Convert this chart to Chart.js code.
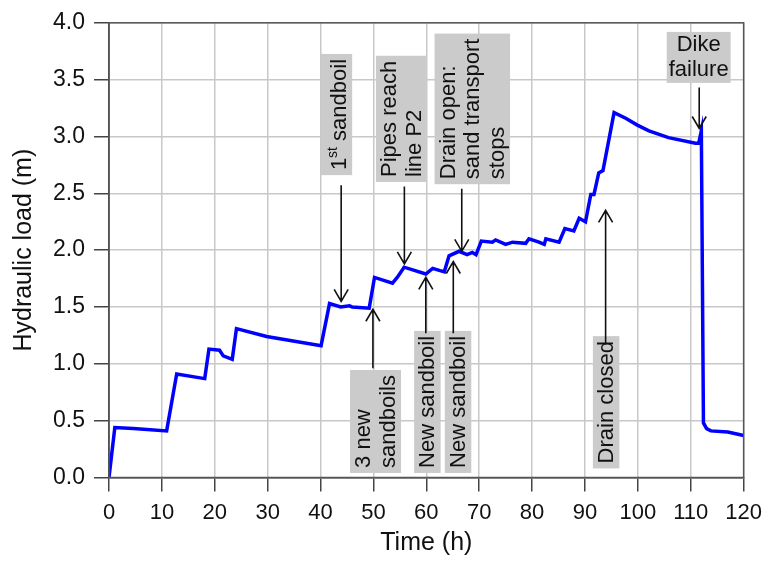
<!DOCTYPE html>
<html>
<head>
<meta charset="UTF-8">
<script src="https://cdn.jsdelivr.net/npm/chart.js"></script>
<style>body{margin:0;background:#fff}</style>
</head>
<body>
<canvas id="myChart" width="770" height="564"></canvas>
<script>
// values
const timeH = [0, 1.1, 4.6, 10.9, 12.8, 18.1, 18.9, 20.9, 21.6, 23.3, 24.1, 29.8, 40.1, 41.7, 43.8, 45.5, 46.0, 49.2,
	50.2, 53.6, 54.5, 55.8, 59.9, 61.2, 62.6, 63.4, 64.3, 66.2, 67.7, 68.7, 69.4, 70.4, 72.5, 73.1, 75.0, 76.3, 78.8, 79.4,
	81.3, 82.3, 82.6, 85.1, 86.2, 87.9, 88.9, 90.1, 91.1, 91.7, 92.6, 93.4, 95.5, 97.7, 99.9, 102.1, 105.8, 110.9, 111.5,
	112.0, 112.4, 113.0, 113.8, 117.0, 120];
const loadM = [0, 0.44, 0.43, 0.41, 0.91, 0.87, 1.13, 1.12, 1.07, 1.04, 1.31, 1.24, 1.16, 1.53, 1.50, 1.51, 1.50, 1.49,
	1.76, 1.71, 1.76, 1.85, 1.79, 1.84, 1.82, 1.81, 1.95, 1.99, 1.96, 1.98, 1.96, 2.08, 2.07, 2.09, 2.05, 2.07, 2.06, 2.10,
	2.07, 2.05, 2.10, 2.07, 2.19, 2.17, 2.28, 2.25, 2.49, 2.49, 2.68, 2.70, 3.21, 3.16, 3.10, 3.05, 2.99, 2.94, 2.94,
	3.05, 0.48, 0.43, 0.41, 0.40, 0.37];
const xTicks = [0, 10, 20, 30, 40, 50, 60, 70, 80, 90, 100, 110, 120];
const yTicks = [0, 0.5, 1, 1.5, 2, 2.5, 3, 3.5, 4];

// notes: t = box centre (h), base = box bottom (m), arrow at arrowT from -> to (m)
const notes = [
	{lines: ['1^st^ sandboil'], t: 43.0, base: 2.66, arrowT: 43.9, from: 2.57, to: 1.55},
	{lines: ['Pipes reach', 'line P2'], t: 55.3, base: 2.60, arrowT: 55.85, from: 2.56, to: 1.88},
	{lines: ['Drain open:', 'sand transport', 'stops'], t: 68.7, base: 2.58, arrowT: 66.7, from: 2.54, to: 1.99},
	{lines: ['3 new', 'sandboils'], t: 50.4, base: 0.04, arrowT: 49.9, from: 0.96, to: 1.48},
	{lines: ['New sandboil'], t: 60.2, base: 0.04, arrowT: 59.9, from: 1.27, to: 1.76},
	{lines: ['New sandboil'], t: 66.0, base: 0.04, arrowT: 65.1, from: 1.27, to: 1.90},
	{lines: ['Drain closed'], t: 94.0, base: 0.08, arrowT: 93.9, from: 1.17, to: 2.35},
	{lines: ['Dike', 'failure'], t: 111.5, top: 3.92, flat: true, arrowT: 111.6, from: 3.43, to: 3.07}
];

const fam = '"Liberation Sans", Arial, sans-serif';

function segs(str) {
	return str.split('^').map((s, i) => ({s: s, sup: i % 2 == 1}));
}
function segWidth(ctx, str) {
	let w = 0;
	segs(str).forEach(p => {
		ctx.font = (p.sup ? '14px ' : '22px ') + fam;
		w += ctx.measureText(p.s).width;
	});
	return w;
}
function drawSegs(ctx, str, x, y) {
	segs(str).forEach(p => {
		ctx.font = (p.sup ? '14px ' : '22px ') + fam;
		ctx.fillText(p.s, x, p.sup ? y - 7 : y);
		x += ctx.measureText(p.s).width;
	});
}

const notePlugin = {
	id: 'notes',
	afterDatasetsDraw(chart) {
		const ctx = chart.ctx, xs = chart.scales.x, ys = chart.scales.y, a = chart.chartArea;
		ctx.save();
		// frame
		ctx.strokeStyle = '#555';
		ctx.lineWidth = 1.5;
		ctx.strokeRect(a.left, a.top, a.right - a.left, a.bottom - a.top);

		ctx.textBaseline = 'middle';
		const lh = 24.5;
		notes.forEach(n => {
			let w = 0;
			n.lines.forEach(l => { w = Math.max(w, segWidth(ctx, l)); });
			const cx = xs.getPixelForValue(n.t);
			ctx.fillStyle = '#cbcbcb';
			if (n.flat) {
				const bw = w + 4, bh = n.lines.length * lh + 2;
				const top = ys.getPixelForValue(n.top);
				ctx.fillRect(cx - bw / 2, top, bw, bh);
				ctx.fillStyle = '#111';
				ctx.textAlign = 'center';
				n.lines.forEach((l, i) => {
					ctx.font = '22px ' + fam;
					ctx.fillText(l, cx, top + 1 + lh * (i + 0.5));
				});
			} else {
				const sup = n.lines[0].indexOf('^') >= 0 ? 5 : 0;
				const bw = n.lines.length * lh + 2 + sup, bh = w + 10;
				const bottom = ys.getPixelForValue(n.base);
				ctx.fillRect(cx - bw / 2, bottom - bh, bw, bh);
				ctx.fillStyle = '#111';
				ctx.textAlign = 'left';
				n.lines.forEach((l, i) => {
					ctx.save();
					ctx.translate(cx - bw / 2 + 1 + sup + lh * (i + 0.5), bottom - 5);
					ctx.rotate(-Math.PI / 2);
					drawSegs(ctx, l, 0, 1);
					ctx.restore();
				});
			}
			// arrow
			const ax = xs.getPixelForValue(n.arrowT);
			const y0 = ys.getPixelForValue(n.from), y1 = ys.getPixelForValue(n.to);
			const d = y1 > y0 ? 1 : -1;
			ctx.strokeStyle = '#111';
			ctx.lineWidth = 1.6;
			ctx.beginPath();
			ctx.moveTo(ax, y0);
			ctx.lineTo(ax, y1);
			ctx.moveTo(ax - 7, y1 - d * 12);
			ctx.lineTo(ax, y1);
			ctx.lineTo(ax + 7, y1 - d * 12);
			ctx.stroke();
		});
		ctx.restore();
	}
};

new Chart('myChart', {
	type: 'line',
	data: {
		datasets: [{
			data: timeH.map((t, i) => ({x: t, y: loadM[i]})),
			borderColor: '#0000ff',
			borderWidth: 3.5,
			pointRadius: 0,
			fill: false,
			tension: 0
		}]
	},
	options: {
		responsive: false,
		animation: false,
		layout: {padding: {top: 19, right: 25}},
		plugins: {legend: {display: false}, tooltip: {enabled: false}},
		scales: {
			x: {
				type: 'linear', min: 0, max: 120,
				afterBuildTicks: s => { s.ticks = xTicks.map(v => ({value: v})); },
				afterFit: s => { s.height = 86.5; },
				grid: {color: '#c8c8c8', lineWidth: 1.5, tickColor: '#444', tickLength: 14},
				border: {color: '#444', width: 1.5},
				ticks: {color: '#111', font: {size: 22, family: fam}, padding: 8, maxRotation: 0, autoSkip: false},
				title: {display: true, text: 'Time (h)', color: '#111', font: {size: 25, family: fam}, padding: {top: 0, bottom: 6}}
			},
			y: {
				min: 0, max: 4,
				afterBuildTicks: s => { s.ticks = yTicks.map(v => ({value: v})); },
				afterFit: s => { s.width = 109; },
				grid: {color: '#c8c8c8', lineWidth: 1.5, tickColor: '#444', tickLength: 15},
				border: {color: '#444', width: 1.5},
				ticks: {color: '#111', font: {size: 23, family: fam}, padding: 9, callback: v => v.toFixed(1)},
				title: {display: true, text: 'Hydraulic load (m)', color: '#111', font: {size: 25, family: fam}, padding: {top: 9, bottom: 0}}
			}
		}
	},
	plugins: [notePlugin]
});
</script>
</body>
</html>
